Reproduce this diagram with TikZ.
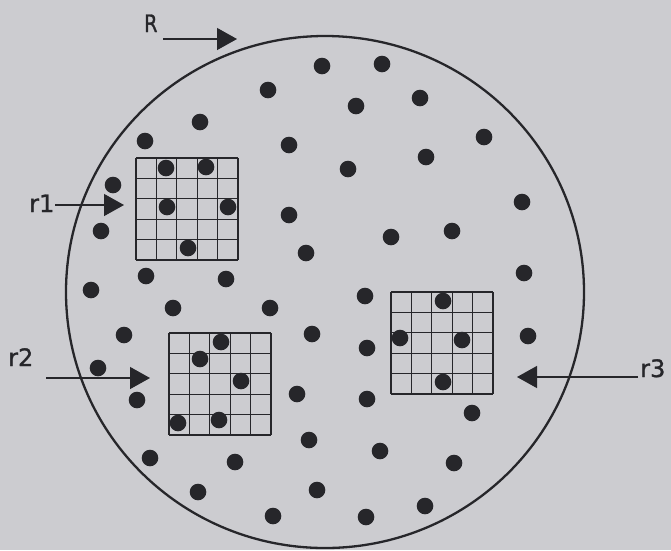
\documentclass[tikz,border=0pt]{standalone}
\usepackage{fontspec}
\setmainfont{DejaVu Sans}
\newfontfamily\lblfont[FakeBold=1.2]{DejaVu Sans}
\usetikzlibrary{arrows.meta}
\definecolor{bg}{RGB}{204,204,208}
\definecolor{ink}{RGB}{38,38,42}
\tikzset{
  dot/.style={fill=ink},
  gridline/.style={draw=ink, line width=1.2pt},
  rim/.style={draw=ink, line width=2.3pt},
  arr/.style={draw=ink, line width=1.3pt, -{Triangle[length=20pt,width=22pt]}},
  lbl/.style={text=ink, font=\lblfont\fontsize{24}{24}\selectfont, inner sep=0pt, anchor=base west},
}
\begin{document}
\begin{tikzpicture}[x=1pt,y=-1pt]
\fill[bg] (0,0) rectangle (671,550);
\useasboundingbox (0,0) rectangle (671,550);
% outer boundary
\draw[rim] (325,292) ellipse [x radius=259, y radius=256];
% grids
\foreach \gx/\gy in {136/158, 169/333, 391/292}{
  \foreach \i in {0,...,5}{
    \draw[gridline] ({\gx+\i*20.4},\gy) -- ({\gx+\i*20.4},{\gy+102});
    \draw[gridline] (\gx,{\gy+\i*20.4}) -- ({\gx+102},{\gy+\i*20.4});
  }
}
% dots outside grids
\foreach \px/\py in {322/66, 382/64, 268/90, 420/98, 356/106, 200/122, 145/141,
  289/145, 484/137, 426/157, 348/169, 113/185, 522/202, 101/231, 289/215,
  391/237, 452/231, 306/253, 524/273, 146/276, 226/279, 91/290, 365/296,
  173/308, 270/308, 124/335, 312/334, 528/336, 367/348, 98/368, 137/400,
  297/394, 367/399, 472/413, 309/440, 380/451, 150/458, 235/462, 454/463,
  198/492, 317/490, 273/516, 366/517, 425/506}{
  \fill[dot] (\px,\py) circle (8.3);
}
% dots inside grids
\foreach \px/\py in {166/168, 206/167, 167/207, 228/207, 188/248,
  221/342, 200/359, 241/381, 178/423, 219/420,
  443/301, 400/338, 462/340, 443/382}{
  \fill[dot] (\px,\py) circle (8.3);
}
% labels
\node[lbl] (R) at (144,32) {\scalebox{0.8}[1]{R}};
\node[lbl] (r1) at (29,212) {r1};
\node[lbl] (r2) at (8,366) {r2};
\node[lbl] (r3) at (640,377) {r3};
% arrows
\coordinate (Rs) at (163,39);  \coordinate (Rt) at (237,39);
\coordinate (r1s) at (55,205); \coordinate (r1t) at (124,205);
\coordinate (r2s) at (46,378); \coordinate (r2t) at (150,378);
\coordinate (r3s) at (638,377); \coordinate (r3t) at (517,377);
\draw[arr] (Rs) -- (Rt);
\draw[arr] (r1s) -- (r1t);
\draw[arr] (r2s) -- (r2t);
\draw[arr] (r3s) -- (r3t);
\end{tikzpicture}
\end{document}
